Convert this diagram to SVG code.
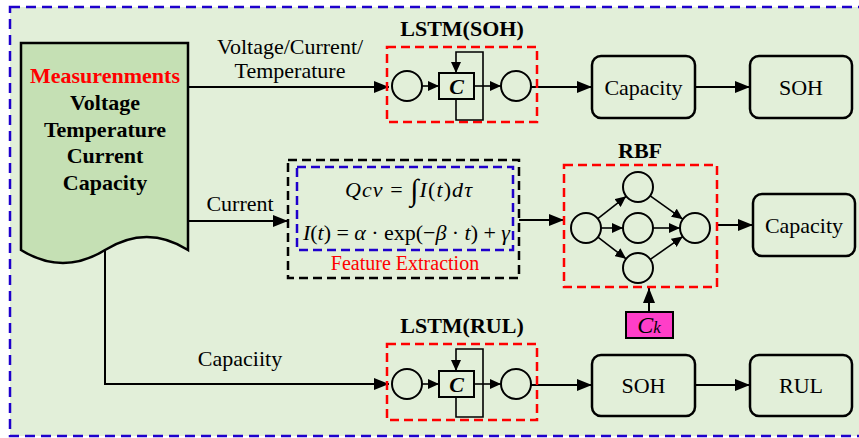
<svg xmlns="http://www.w3.org/2000/svg" width="859" height="438" viewBox="0 0 859 438" font-family="'Liberation Serif', 'Times New Roman', serif">
<style>
.lbl{font-family:"Liberation Serif","Times New Roman",serif;font-size:22px;fill:#000}
.bold{font-weight:bold}
.rbox{fill:none;stroke:#000;stroke-width:2.5}
.reddash{fill:none;stroke:#FF0000;stroke-width:2.5;stroke-dasharray:9 5}
.cir{fill:none;stroke:#000;stroke-width:2}
.ln{fill:none;stroke:#000;stroke-width:2}
.lnt{fill:none;stroke:#000;stroke-width:1.6}
</style>
<defs>
<marker id="ah" markerUnits="userSpaceOnUse" markerWidth="16" markerHeight="12" refX="15" refY="6" orient="auto">
<path d="M0,0 L15,6 L0,12 Z" fill="#000"/>
</marker>
<marker id="ahs" markerUnits="userSpaceOnUse" markerWidth="12" markerHeight="10" refX="11" refY="5" orient="auto">
<path d="M0,0 L11,5 L0,10 Z" fill="#000"/>
</marker>
</defs>
<rect x="10" y="7" width="862" height="429" fill="#E2EFD9" stroke="#1E00CC" stroke-width="2.5" stroke-dasharray="10 6"/>

<g id="measurements">
<path d="M21,43 H188 V250 Q147,224 105,250 Q63,276 21,250 Z" fill="#C5E0B4" stroke="#000" stroke-width="2.5"/>
<text class="lbl bold" x="105" y="83" text-anchor="middle" style="fill:#FF0000">Measurenments</text>
<text class="lbl bold" x="105" y="110" text-anchor="middle">Voltage</text>
<text class="lbl bold" x="105" y="137" text-anchor="middle">Temperature</text>
<text class="lbl bold" x="105" y="163" text-anchor="middle">Current</text>
<text class="lbl bold" x="105" y="190" text-anchor="middle">Capacity</text>
</g>

<g id="connectors">
<path class="ln" d="M188,87 H389" marker-end="url(#ah)"/>
<path class="ln" d="M188,221 H288" marker-end="url(#ah)"/>
<path class="ln" d="M105,250 V384 H389" marker-end="url(#ah)"/>
<path class="ln" d="M531,87 H592" marker-end="url(#ah)"/>
<path class="ln" d="M695,87 H750" marker-end="url(#ah)"/>
<path class="ln" d="M519,220 H564" marker-end="url(#ah)"/>
<path class="ln" d="M717,225 H753" marker-end="url(#ah)"/>
<path class="ln" d="M649,312 V288" marker-end="url(#ah)"/>
<path class="ln" d="M531,385 H592" marker-end="url(#ah)"/>
<path class="ln" d="M695,385 H750" marker-end="url(#ah)"/>
<text class="lbl" x="290" y="54" text-anchor="middle">Voltage/Current/</text>
<text class="lbl" x="290" y="78" text-anchor="middle">Temperature</text>
<text class="lbl" x="240" y="211" text-anchor="middle">Current</text>
<text class="lbl" x="240" y="366" text-anchor="middle">Capaciity</text>
</g>

<g id="lstm-soh">
<text class="lbl bold" x="462" y="36" text-anchor="middle">LSTM(SOH)</text>
<rect class="reddash" x="387" y="47" width="150" height="75"/>
<circle class="cir" cx="407" cy="86" r="15"/>
<rect x="439" y="73" width="35" height="26" fill="none" stroke="#000" stroke-width="2"/>
<text class="lbl bold" x="456.5" y="94" text-anchor="middle" font-style="italic">C</text>
<circle class="cir" cx="516" cy="86" r="15"/>
<path class="lnt" d="M422,86 H439" marker-end="url(#ahs)"/>
<path class="lnt" d="M474,86 H501" marker-end="url(#ahs)"/>
<path class="lnt" d="M456,99 V120 H483 V52 H456 V73" marker-end="url(#ahs)"/>
</g>

<g id="capacity-soh">
<rect class="rbox" x="592" y="56" width="103" height="62" rx="9"/>
<text class="lbl" x="643.5" y="95" text-anchor="middle">Capacity</text>
</g>
<g id="soh-top">
<rect class="rbox" x="750" y="56" width="102" height="62" rx="9"/>
<text class="lbl" x="801" y="95" text-anchor="middle">SOH</text>
</g>

<g id="feature-extraction">
<rect x="288" y="160" width="231" height="118" fill="none" stroke="#000" stroke-width="2.5" stroke-dasharray="9 5"/>
<rect x="297" y="167" width="216" height="83" fill="none" stroke="#1E00CC" stroke-width="2.5" stroke-dasharray="9 5"/>
<text class="lbl" x="345" y="197" textLength="127" lengthAdjust="spacing"><tspan font-style="italic">Qcv</tspan> = <tspan font-size="30" dy="3">∫</tspan><tspan dy="-3" font-style="italic">I</tspan>(<tspan font-style="italic">t</tspan>)<tspan font-style="italic">dτ</tspan></text>
<text class="lbl" x="303" y="240" textLength="207" lengthAdjust="spacing"><tspan font-style="italic">I</tspan>(<tspan font-style="italic">t</tspan>) = <tspan font-style="italic">α</tspan> · exp(−<tspan font-style="italic">β</tspan> · <tspan font-style="italic">t</tspan>) + <tspan font-style="italic">γ</tspan></text>
<text class="lbl" x="405" y="270" text-anchor="middle" style="fill:#FF0000;font-size:20px">Feature Extraction</text>
</g>

<g id="rbf">
<text class="lbl bold" x="640" y="158" text-anchor="middle">RBF</text>
<rect class="reddash" x="564" y="165" width="153" height="122"/>
<circle class="cir" cx="586" cy="228" r="15"/>
<circle class="cir" cx="638" cy="187" r="15"/>
<circle class="cir" cx="638" cy="228" r="15"/>
<circle class="cir" cx="638" cy="268" r="15"/>
<circle class="cir" cx="695" cy="228" r="15"/>
<path class="lnt" d="M597.8,218.7 L626.2,196.3" marker-end="url(#ahs)"/>
<path class="lnt" d="M601,228 H623" marker-end="url(#ahs)"/>
<path class="lnt" d="M597.9,237.2 L626.1,258.8" marker-end="url(#ahs)"/>
<path class="lnt" d="M650.2,195.8 L682.8,219.2" marker-end="url(#ahs)"/>
<path class="lnt" d="M653,228 H680" marker-end="url(#ahs)"/>
<path class="lnt" d="M650.3,259.4 L682.7,236.6" marker-end="url(#ahs)"/>
</g>

<g id="ck">
<rect x="626" y="312" width="47" height="26" fill="#FF3EC8" stroke="#000" stroke-width="2"/>
<text class="lbl" x="649" y="333" text-anchor="middle"><tspan font-style="italic" font-size="24">C</tspan><tspan font-style="italic" font-size="17">k</tspan></text>
</g>

<g id="capacity-rbf">
<rect class="rbox" x="753" y="194" width="102" height="62" rx="9"/>
<text class="lbl" x="804" y="233" text-anchor="middle">Capacity</text>
</g>

<g id="lstm-rul">
<text class="lbl bold" x="462" y="333" text-anchor="middle">LSTM(RUL)</text>
<rect class="reddash" x="387" y="344" width="150" height="76"/>
<circle class="cir" cx="407" cy="384" r="15"/>
<rect x="439" y="371" width="35" height="26" fill="none" stroke="#000" stroke-width="2"/>
<text class="lbl bold" x="456.5" y="392" text-anchor="middle" font-style="italic">C</text>
<circle class="cir" cx="516" cy="384" r="15"/>
<path class="lnt" d="M422,384 H439" marker-end="url(#ahs)"/>
<path class="lnt" d="M474,384 H501" marker-end="url(#ahs)"/>
<path class="lnt" d="M456,397 V417 H483 V349 H456 V371" marker-end="url(#ahs)"/>
</g>

<g id="soh-bottom">
<rect class="rbox" x="592" y="355" width="103" height="61" rx="9"/>
<text class="lbl" x="643.5" y="393" text-anchor="middle">SOH</text>
</g>
<g id="rul">
<rect class="rbox" x="750" y="355" width="102" height="61" rx="9"/>
<text class="lbl" x="801" y="393" text-anchor="middle">RUL</text>
</g>
</svg>
